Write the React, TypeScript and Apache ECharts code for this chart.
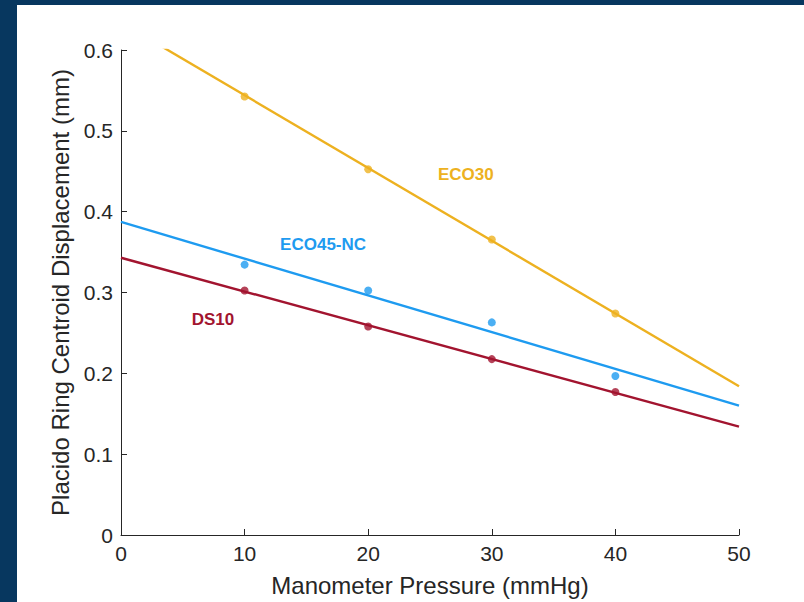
import React, { useEffect, useRef } from "react";
import * as echarts from "echarts";

const pressureTicks = [0, 10, 20, 30, 40, 50];
const pressures = [10, 20, 30, 40];

const eco30Points = [0.5425, 0.4525, 0.3655, 0.274];
const eco45Points = [0.3345, 0.3025, 0.263, 0.1967];
const ds10Points = [0.3025, 0.258, 0.2176, 0.177];

// fitted lines: [pressure, displacement] endpoints
const eco30Fit = [[0, 0.634], [50, 0.184]];
const eco45Fit = [[0, 0.3873], [50, 0.16]];
const ds10Fit = [[0, 0.343], [50, 0.134]];

// label anchor positions (data coordinates)
const eco30Label = [27.9, 0.446];
const eco45Label = [16.35, 0.359];
const ds10Label = [7.44, 0.267];

const ORANGE = "#EDB120";
const BLUE = "#1E9BF0";
const RED = "#A2142F";
const FONT = "'Liberation Sans', Arial, Helvetica, sans-serif";
const TXT = "#262626";

function pts(vals: number[]) {
  return pressures.map((p, i) => [p, vals[i]]);
}

function lineSeries(name: string, color: string, fit: number[][], label: number[]) {
  return {
    name: name + " fit",
    type: "line",
    data: fit,
    showSymbol: false,
    symbol: "none",
    lineStyle: { color, width: 2.4 },
    clip: true,
    z: 3,
    markPoint: {
      symbol: "circle",
      symbolSize: 0,
      data: [{ coord: label, name }],
      label: {
        show: true,
        position: "inside",
        formatter: name,
        color,
        fontFamily: FONT,
        fontWeight: "bold",
        fontSize: 17,
      },
    },
  };
}

function scatterSeries(name: string, color: string, vals: number[]) {
  return {
    name,
    type: "scatter",
    data: pts(vals),
    symbol: "circle",
    symbolSize: 8,
    itemStyle: { color },
    z: 4,
  };
}

export default function App() {
  const ref = useRef<HTMLDivElement>(null);
  useEffect(() => {
    document.body.style.margin = "0";
    const chart = echarts.init(ref.current!, null, { renderer: "svg" });
    chart.setOption({
      animation: false,
      backgroundColor: "#07375F",
      graphic: [
        {
          type: "rect",
          z: -100,
          silent: true,
          shape: { x: 17, y: 5, width: 800, height: 600 },
          style: { fill: "#ffffff" },
        },
      ],
      grid: { left: 121, right: 65, top: 50, bottom: 64, containLabel: false },
      xAxis: {
        type: "value",
        min: pressureTicks[0],
        max: pressureTicks[pressureTicks.length - 1],
        interval: 10,
        name: "Manometer Pressure (mmHg)",
        nameLocation: "middle",
        nameGap: 38,
        nameTextStyle: { fontFamily: FONT, fontSize: 24, color: TXT },
        axisLine: { show: true, lineStyle: { color: TXT, width: 1 } },
        axisTick: { show: true, inside: true, length: 6, lineStyle: { color: TXT } },
        axisLabel: { fontFamily: FONT, fontSize: 21, color: TXT, margin: 8 },
        splitLine: { show: false },
      },
      yAxis: {
        type: "value",
        min: 0,
        max: 0.6,
        interval: 0.1,
        name: "Placido Ring Centroid Displacement (mm)",
        nameLocation: "middle",
        nameGap: 44,
        nameTextStyle: { fontFamily: FONT, fontSize: 24, color: TXT },
        axisLine: { show: true, lineStyle: { color: TXT, width: 1 } },
        axisTick: { show: true, inside: true, length: 6, lineStyle: { color: TXT } },
        axisLabel: { fontFamily: FONT, fontSize: 21, color: TXT, margin: 8 },
        splitLine: { show: false },
      },
      series: [
        lineSeries("ECO30", ORANGE, eco30Fit, eco30Label),
        lineSeries("ECO45-NC", BLUE, eco45Fit, eco45Label),
        lineSeries("DS10", RED, ds10Fit, ds10Label),
        scatterSeries("ECO30", ORANGE, eco30Points),
        scatterSeries("ECO45-NC", BLUE, eco45Points),
        scatterSeries("DS10", RED, ds10Points),
      ],
    });
    return () => chart.dispose();
  }, []);
  return (
    <div
      ref={ref}
      style={{ position: "fixed", left: 0, top: 0, width: 804, height: 602 }}
    />
  );
}
